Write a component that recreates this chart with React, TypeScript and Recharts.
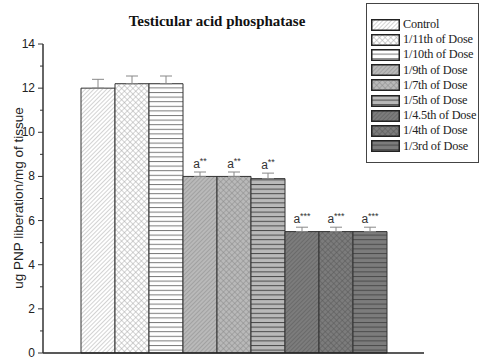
import React from 'react';
import { BarChart, Bar, XAxis, YAxis, ErrorBar, LabelList } from 'recharts';

const seriesNames = [
  'Control',
  '1/11th of Dose',
  '1/10th of Dose',
  '1/9th of Dose',
  '1/7th of Dose',
  '1/5th of Dose',
  '1/4.5th of Dose',
  '1/4th of Dose',
  '1/3rd of Dose',
];
const values = [12.0, 12.2, 12.2, 8.0, 8.0, 7.9, 5.5, 5.5, 5.5];
const errors = [0.4, 0.35, 0.35, 0.2, 0.2, 0.25, 0.2, 0.2, 0.2];
const sigMarks = ['', '', '', '**', '**', '**', '***', '***', '***'];
const yTicks = [0, 1, 2, 3, 4, 5, 6, 7, 8, 9, 10, 11, 12, 13, 14];

// pattern styling: background shade + line shade + kind
const shades = [
  { bg: '#ffffff', line: '#a8a8a8' },
  { bg: '#b9b9b9', line: '#8a8a8a' },
  { bg: '#7c7c7c', line: '#585858' },
];
const kinds = ['diag', 'cross', 'horiz'];

const data = [
  seriesNames.reduce((row: any, name, i) => {
    row[`s${i}`] = values[i];
    row[`e${i}`] = [0, errors[i]];
    return row;
  }, { name: 'all' }),
];

const PatternDefs = () => (
  <defs>
    {seriesNames.map((_, i) => {
      const { bg, line } = shades[Math.floor(i / 3)];
      const kind = kinds[i % 3];
      const id = `pat${i}`;
      if (kind === 'diag') {
        return (
          <pattern key={id} id={id} width="3" height="3" patternUnits="userSpaceOnUse" patternTransform="rotate(45)">
            <rect width="3" height="3" fill={bg} />
            <line x1="0" y1="0" x2="0" y2="3" stroke={line} strokeWidth="1" />
          </pattern>
        );
      }
      if (kind === 'cross') {
        return (
          <pattern key={id} id={id} width="4" height="4" patternUnits="userSpaceOnUse" patternTransform="rotate(45)">
            <rect width="4" height="4" fill={bg} />
            <line x1="0" y1="0" x2="0" y2="4" stroke={line} strokeWidth="1" />
            <line x1="0" y1="0" x2="4" y2="0" stroke={line} strokeWidth="1" />
          </pattern>
        );
      }
      return (
        <pattern key={id} id={id} width="6" height="4.6" patternUnits="userSpaceOnUse">
          <rect width="6" height="4.6" fill={bg} />
          <line x1="0" y1="0.5" x2="6" y2="0.5" stroke={i === 2 ? '#7a7a7a' : '#4a4a4a'} strokeWidth="1" />
        </pattern>
      );
    })}
  </defs>
);

const YTick = (props: any) => {
  const { x, y, payload } = props;
  const major = payload.value % 2 === 0;
  return (
    <g>
      <line x1={x - (major ? 5 : 3)} y1={y} x2={x} y2={y} stroke="#333" strokeWidth={1} />
      {major && (
        <text x={x - 8} y={y} dy={4} textAnchor="end" fontSize={12} fill="#222" fontFamily="Liberation Sans, Arial, sans-serif">
          {payload.value}
        </text>
      )}
    </g>
  );
};

const makeSigLabel = (i: number) => (props: any) => {
  const { x, y, width, height } = props;
  const mark = sigMarks[i];
  if (!mark) return null;
  const pxPerUnit = height / values[i];
  const top = y - errors[i] * pxPerUnit;
  return (
    <text x={x + width / 2} y={top - 4} textAnchor="middle" fontFamily="Liberation Sans, Arial, sans-serif" fill="#333">
      <tspan fontSize={12}>a</tspan>
      <tspan fontSize={9} dy={-4}>{mark}</tspan>
    </text>
  );
};

const App: React.FC = () => {
  return (
    <div style={{ position: 'relative', width: 489, height: 362, background: '#fff' }}>
      <style>{`body{margin:0}`}</style>
      <div
        style={{
          position: 'absolute', left: 97, top: 13, width: 240, textAlign: 'center',
          fontFamily: 'Liberation Serif, Times New Roman, serif', fontWeight: 'bold', fontSize: 15, color: '#111',
        }}
      >
        Testicular acid phosphatase
      </div>
      <div
        style={{
          position: 'absolute', left: 18, top: 198, transform: 'translate(-50%, -50%) rotate(-90deg)', whiteSpace: 'nowrap',
          fontFamily: 'Liberation Sans, Arial, sans-serif', fontSize: 13.5, color: '#222',
        }}
      >
        ug PNP liberation/mg of tissue
      </div>
      <div
        style={{
          position: 'absolute', left: 366, top: 3, width: 113, height: 160, border: '1.5px solid #444',
          boxSizing: 'border-box', paddingTop: 13, paddingLeft: 4,
          fontFamily: 'Liberation Serif, Times New Roman, serif', fontSize: 12.3, color: '#222',
        }}
      >
        {seriesNames.map((name, i) => (
          <div key={name} style={{ display: 'flex', alignItems: 'center', height: 15.2 }}>
            <svg width={29} height={12} style={{ marginRight: 3, flex: 'none' }}>
              <rect x={0.75} y={0.75} width={27.5} height={10.5} fill={`url(#pat${i})`} stroke="#222" strokeWidth={1.5} />
            </svg>
            <span style={{ whiteSpace: 'nowrap', letterSpacing: -0.2 }}>{name}</span>
          </div>
        ))}
      </div>
      <BarChart
        width={489}
        height={362}
        data={data}
        margin={{ top: 44, right: 65, bottom: 0, left: 0 }}
        barGap={0}
        barCategoryGap={38}
        style={{ position: 'absolute', left: 0, top: 0 }}
      >
        <PatternDefs />
        <XAxis
          dataKey="name"
          height={9}
          tick={false}
          tickSize={6}
          axisLine={{ stroke: '#222', strokeWidth: 1.5 }}
          tickLine={{ stroke: '#222', strokeWidth: 1.2 }}
        />
        <YAxis
          width={43}
          domain={[0, 14]}
          ticks={yTicks}
          interval={0}
          tickSize={0}
          tickMargin={0}
          tickLine={false}
          tick={<YTick />}
          axisLine={{ stroke: '#333', strokeWidth: 1.5 }}
        />
        {seriesNames.map((name, i) => (
          <Bar
            key={name}
            dataKey={`s${i}`}
            name={name}
            fill={`url(#pat${i})`}
            stroke="#333"
            strokeWidth={1}
            isAnimationActive={false}
          >
            <ErrorBar dataKey={`e${i}`} width={6} stroke="#888" strokeWidth={1} direction="y" />
            <LabelList dataKey={`s${i}`} content={makeSigLabel(i)} />
          </Bar>
        ))}
      </BarChart>
    </div>
  );
};

export default App;
